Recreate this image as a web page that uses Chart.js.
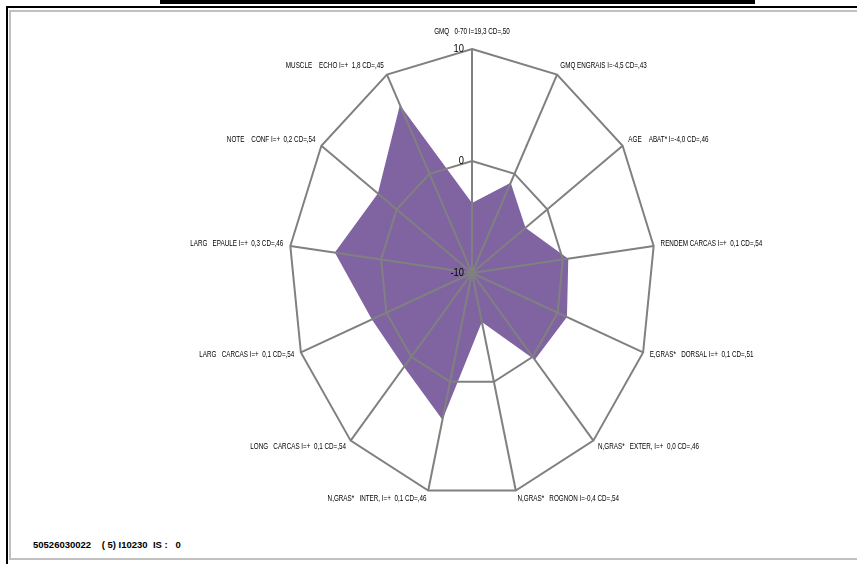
<!DOCTYPE html>
<html lang="fr">
<head>
  <meta charset="UTF-8">
  <title>Radar</title>
  <script src="https://cdn.jsdelivr.net/npm/chart.js"></script>
  <style>
    body { margin: 0; background: #fff; width: 857px; height: 564px; overflow: hidden; position: relative; }
    #topbar { position: absolute; left: 160px; top: 0; width: 595px; height: 4px; background: #000; }
    #outer { position: absolute; left: 6px; top: 6px; width: 900px; height: 600px; border-top: 2px solid #000; border-left: 2px solid #000; }
    #inner { position: absolute; left: 9px; top: 10px; width: 900px; height: 546px; border-top: 2px solid #c0c0c0; border-left: 2px solid #c0c0c0; border-bottom: 2px solid #c0c0c0; }
    #foot { position: absolute; left: 33px; top: 539px; font: bold 9.5px "Liberation Sans", Arial, sans-serif; color: #000; white-space: pre; }
    #myChart { position: absolute; left: 0; top: 0; }
  </style>
</head>
<body>
  <div id="topbar"></div>
  <div id="outer"></div>
  <div id="inner"></div>
  <div id="foot">50526030022    ( 5) I10230  IS :   0</div>
  <canvas id="myChart" width="857" height="564"></canvas>

  <script>
    // axes du radar
    const categories = [
      'GMQ   0-70 I=19,3 CD=,50',
      'GMQ ENGRAIS I=-4,5 CD=,43',
      'AGE    ABAT* I=-4,0 CD=,46',
      'RENDEM CARCAS I=+  0,1 CD=,54',
      'E,GRAS*   DORSAL I=+  0,1 CD=,51',
      'N,GRAS*   EXTER, I=+  0,0 CD=,46',
      'N,GRAS*   ROGNON I=-0,4 CD=,54',
      'N,GRAS*   INTER, I=+  0,1 CD=,46',
      'LONG   CARCAS I=+  0,1 CD=,54',
      'LARG   CARCAS I=+  0,1 CD=,54',
      'LARG   EPAULE I=+  0,3 CD=,46',
      'NOTE    CONF I=+  0,2 CD=,54',
      'MUSCLE    ECHO I=+  1,8 CD=,45',
    ];

    // valeurs (echelle -10 .. 10)
    const values = [-3.75, -0.9, -2.9, 0.6, 1.1, 0.35, -5.5, 3.5, 1.2, 1.7, 5.1, 2.5, 6.95];

    const scaleMin = -10;
    const scaleMax = 10;
    const scaleStep = 10;

    // le radar d'origine est aplati horizontalement
    const X_SQUEEZE = 0.817;
    const RadialScale = Chart.RadialLinearScale || Chart.registry.getScale('radialLinear');
    const basePointPosition = RadialScale.prototype.getPointPosition;
    RadialScale.prototype.getPointPosition = function (index, distance, additionalAngle) {
      const p = basePointPosition.call(this, index, distance, additionalAngle);
      return { x: this.xCenter + (p.x - this.xCenter) * X_SQUEEZE, y: p.y, angle: p.angle };
    };

    // texte condense (police etroite d'Excel)
    function narrowText(c, text, x, y, k) {
      c.save();
      c.translate(x, y);
      c.scale(k, 1);
      c.fillText(text, 0, 0);
      c.restore();
    }

    // etiquettes facon Excel
    const labelPlugin = {
      id: 'excelLabels',
      afterDraw(chart) {
        const scale = chart.scales.r;
        const c = chart.ctx;
        c.save();
        c.fillStyle = '#000';
        c.textBaseline = 'middle';
        c.font = '9px "Liberation Sans", Arial, sans-serif';
        categories.forEach((label, i) => {
          const p = scale.getPointPosition(i, scale.drawingArea);
          const a = scale.getIndexAngle(i);
          const s = Math.sin(a);
          const co = Math.cos(a);
          let x, y;
          if (Math.abs(s) < 0.01) {
            c.textAlign = 'center';
            x = p.x;
            y = p.y - 17;
          } else {
            c.textAlign = s > 0 ? 'left' : 'right';
            x = p.x + 7 * s;
            y = p.y - 9 * co - 1;
          }
          narrowText(c, label, x, y, 0.7);
        });

        c.font = '11px "Liberation Sans", Arial, sans-serif';
        c.textAlign = 'right';
        scale.ticks.forEach(t => {
          const d = scale.getDistanceFromCenterForValue(t.value);
          narrowText(c, t.label, scale.xCenter - 8, scale.yCenter - d, 0.85);
        });
        c.restore();
      }
    };

    const ctx = document.getElementById('myChart').getContext('2d');
    const myChart = new Chart(ctx, {
      type: 'radar',
      data: {
        labels: categories,
        datasets: [{
          data: values,
          backgroundColor: '#8064A2',
          borderWidth: 0,
          pointRadius: 0,
          fill: 'start',
        }],
      },
      options: {
        responsive: false,
        animation: false,
        layout: { padding: { top: 49, bottom: 67, left: 87, right: 0 } },
        plugins: {
          legend: { display: false },
          tooltip: { enabled: false },
        },
        scales: {
          r: {
            min: scaleMin,
            max: scaleMax,
            ticks: { display: false, stepSize: scaleStep },
            pointLabels: { display: false },
            grid: { color: '#808080', lineWidth: 2, z: 1 },
            angleLines: { color: '#808080', lineWidth: 2 },
          },
        },
      },
      plugins: [labelPlugin],
    });
  </script>
</body>
</html>
